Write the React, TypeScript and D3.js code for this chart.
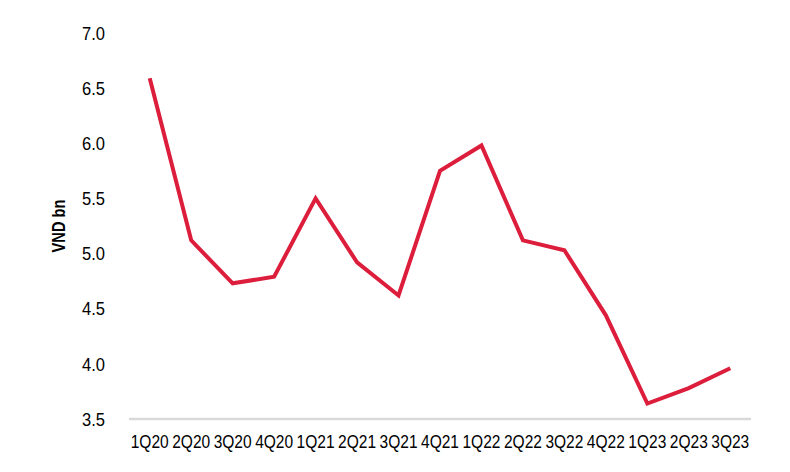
import React from "react";
import * as d3 from "d3";

const categories = ["1Q20","2Q20","3Q20","4Q20","1Q21","2Q21","3Q21","4Q21","1Q22","2Q22","3Q22","4Q22","1Q23","2Q23","3Q23"];
const values = [6.59, 5.12, 4.73, 4.79, 5.5, 4.92, 4.62, 5.75, 5.98, 5.12, 5.03, 4.44, 3.64, 3.78, 3.96];
const yTicks = [3.5, 4.0, 4.5, 5.0, 5.5, 6.0, 6.5, 7.0];

const W = 790, H = 472;
const FONT = "'Liberation Sans', Arial, sans-serif";

export default function App() {
  const x = d3.scaleBand<string>().domain(categories).range([129, 751]);
  const y = d3.scaleLinear().domain([3.5, 7.0]).range([419, 33]);
  const line = d3.line<number>()
    .x((_, i) => (x(categories[i]) as number) + x.bandwidth() / 2)
    .y((d) => y(d));
  return (
    <svg width={W} height={H} style={{ position: "absolute", left: 0, top: 0, background: "#fff" }}>
      <rect width={W} height={H} fill="#fff" />
      {yTicks.map((t) => (
        <text key={t} x={105} y={y(t)} dy="0.35em" textAnchor="end" fontFamily={FONT} fontSize={19}
          textLength={23} lengthAdjust="spacingAndGlyphs" fill="#000">
          {t.toFixed(1)}
        </text>
      ))}
      <line x1={129} x2={751} y1={y(3.5)} y2={y(3.5)} stroke="#d9d9d9" strokeWidth={2.5} />
      {categories.map((c) => (
        <text key={c} x={(x(c) as number) + x.bandwidth() / 2} y={442} dy="0.35em" textAnchor="middle" fontFamily={FONT} fontSize={18}
          textLength={38} lengthAdjust="spacingAndGlyphs" fill="#000">
          {c}
        </text>
      ))}
      <text transform={`translate(58, 226) rotate(-90)`} textAnchor="middle" dy="0.35em" fontFamily={FONT} fontSize={19} fontWeight="bold"
        textLength={53} lengthAdjust="spacingAndGlyphs" fill="#000">
        VND bn
      </text>
      <path d={line(values) || ""} fill="none" stroke="#dc1e3c" strokeWidth={4} strokeLinejoin="miter" />
    </svg>
  );
}
